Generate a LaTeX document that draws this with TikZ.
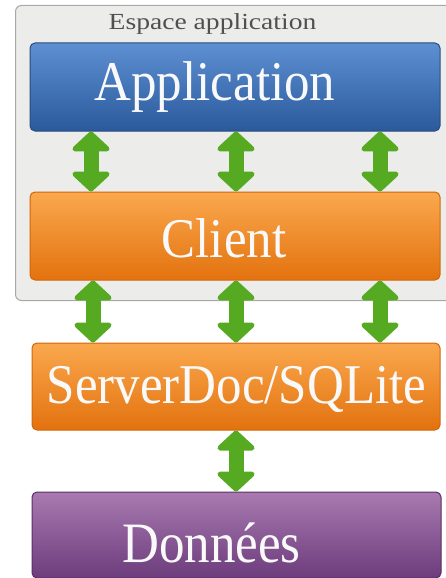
\documentclass[tikz,border=0pt]{standalone}
\usepackage{fontspec}
\setmainfont{Liberation Serif}
\usetikzlibrary{arrows.meta,shadings}
\definecolor{appTop}{HTML}{5D8FD2}
\definecolor{appBot}{HTML}{2A5A9C}
\definecolor{appLine}{HTML}{274C7E}
\definecolor{orTop}{HTML}{FAA84E}
\definecolor{orBot}{HTML}{E3720E}
\definecolor{orLine}{HTML}{D0650A}
\definecolor{puTop}{HTML}{A87AB0}
\definecolor{puBot}{HTML}{6C3C7C}
\definecolor{puLine}{HTML}{5A2E68}
\definecolor{spaceFill}{HTML}{ECECEA}
\definecolor{spaceLine}{HTML}{A8A8A8}
\definecolor{arrGreen}{HTML}{55AA22}
\definecolor{labelGray}{HTML}{505050}
\tikzset{
  layer/.style={rounded corners=5pt, minimum width=410pt, minimum height=88pt,
    inner sep=0pt, shading=axis, shading angle=0, line width=1pt},
  bluebox/.style={layer, top color=appTop, bottom color=appBot, draw=appLine},
  orangebox/.style={layer, top color=orTop, bottom color=orBot, draw=orLine},
  purplebox/.style={layer, top color=puTop, bottom color=puBot, draw=puLine},
  boxtext/.style={anchor=base, inner sep=0pt, text=white!95!gray,
    font=\fontsize{51}{54}\selectfont},
  dblarrow/.style={draw=arrGreen, line width=15pt,
    {Triangle[width=44pt,length=21pt,round,fill=arrGreen]}-{Triangle[width=44pt,length=21pt,round,fill=arrGreen]}},
}
\begin{document}
\begin{tikzpicture}[x=1pt,y=-1pt]
\useasboundingbox (0,0) rectangle (445,578);
\fill[white] (0,0) rectangle (445,578);
\node[draw=spaceLine, fill=spaceFill, rounded corners=6pt, line width=1pt,
  minimum width=440pt, minimum height=295pt, anchor=north west] (space) at (15,5) {};
\node[anchor=base, inner sep=0pt, text=labelGray, font=\fontsize{23}{25}\selectfont] (spacelabel) at (212.5,30) {\scalebox{1.2}[1]{Espace application}};
\node[bluebox] (app) at (235,87) {};
\node[orangebox] (client) at (235,236) {};
\node[orangebox, minimum width=408pt, minimum height=87pt] (server) at (236,386.5) {};
\node[purplebox, minimum width=409pt, minimum height=86pt] (data) at (236.5,535) {};
\node[boxtext] (appText) at (215,100) {\scalebox{1}[1.1]{Application}};
\node[boxtext] (clientText) at (224,257) {\scalebox{1}[1.1]{Client}};
\node[boxtext] (serverText) at (236.5,403) {\scalebox{1}[1.1]{ServerDoc/SQLite}};
\node[boxtext] (dataText) at (211.5,562) {\scalebox{1}[1.12]{Données}};
\foreach \x in {91,236,380}{
  \draw[dblarrow] (app.south -| \x,0) -- (client.north -| \x,0);
}
\foreach \x in {93,236,380}{
  \draw[dblarrow] (client.south -| \x,0) -- (server.north -| \x,0);
}
\draw[dblarrow] (server.south -| 236,0) -- (data.north -| 236,0);
\end{tikzpicture}
\end{document}
